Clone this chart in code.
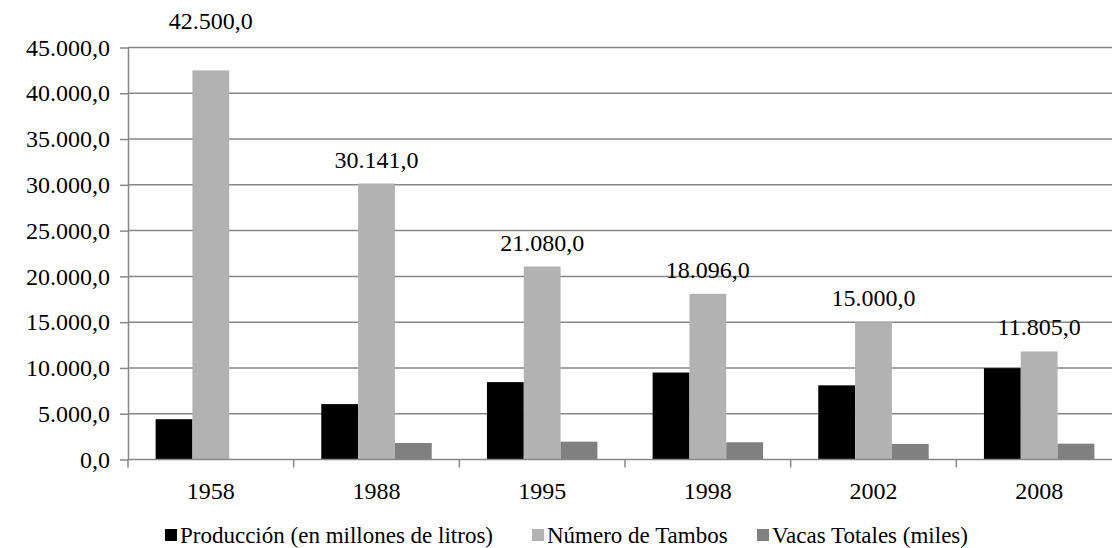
<!DOCTYPE html>
<html>
<head>
<meta charset="utf-8">
<script src="https://cdn.jsdelivr.net/npm/d3@7"></script>
<style>
  body { margin: 0; background: #fff; }
</style>
</head>
<body>
<div id="chart"></div>
<script>
const years = ["1958", "1988", "1995", "1998", "2002", "2008"];
const produccion = [4400, 6050, 8450, 9500, 8100, 9980];
const tambos = [42500, 30141, 21080, 18096, 15000, 11805];
const vacas = [null, 1800, 1950, 1880, 1700, 1730];
const yTicks = [0, 5000, 10000, 15000, 20000, 25000, 30000, 35000, 40000, 45000];
const seriesNames = ["Producción (en millones de litros)", "Número de Tambos", "Vacas Totales (miles)"];
const seriesColors = ["#000000", "#b2b2b2", "#808080"];

const WIDTH = 1112;
const HEIGHT = 548;
const margin = { top: 47.5, right: -10, bottom: 88.5, left: 128 };
const FONT = "'Liberation Serif', 'Times New Roman', serif";

const locale = d3.formatLocale({ decimal: ",", thousands: ".", grouping: [3], currency: ["", ""] });
const fmt = locale.format(",.1f");

let svg = d3
  .select("#chart")
  .append("svg")
  .attr("width", WIDTH)
  .attr("height", HEIGHT)
  .attr("font-family", FONT);

let x = d3
  .scaleBand()
  .domain(years)
  .range([margin.left, WIDTH - margin.right]);

let y = d3
  .scaleLinear()
  .domain([0, 45000])
  .range([HEIGHT - margin.bottom, margin.top]);

//Grid lines
svg
  .append("g")
  .selectAll("line")
  .data(yTicks.filter((t) => t > 0))
  .enter()
  .append("line")
  .attr("x1", margin.left)
  .attr("x2", WIDTH)
  .attr("y1", (d) => y(d))
  .attr("y2", (d) => y(d))
  .attr("stroke", "#878787")
  .attr("stroke-width", 1.5);

//Bars (gap width 150%)
let barW = x.bandwidth() / (3 + 1.5);
let series = [produccion, tambos, vacas];

series.forEach((values, s) => {
  svg
    .append("g")
    .selectAll("rect")
    .data(years.filter((yr, i) => values[i] != null))
    .enter()
    .append("rect")
    .attr("x", (d) => x(d) + barW * 0.75 + s * barW)
    .attr("width", barW)
    .attr("y", (d) => y(values[years.indexOf(d)]))
    .attr("height", (d) => y(0) - y(values[years.indexOf(d)]))
    .attr("fill", seriesColors[s]);
});

//Axes
let yAxis = d3
  .axisLeft(y)
  .tickValues(yTicks)
  .tickSize(8)
  .tickSizeOuter(0)
  .tickPadding(10)
  .tickFormat(fmt);

let gy = svg
  .append("g")
  .attr("transform", "translate(" + margin.left + ",0)")
  .call(yAxis);

let xAxis = d3
  .axisBottom(x)
  .tickSize(0)
  .tickSizeOuter(0)
  .tickPadding(22);

let gx = svg
  .append("g")
  .attr("transform", "translate(0," + y(0) + ")")
  .call(xAxis);

//category separators
gx.selectAll(".sep")
  .data(years)
  .enter()
  .append("line")
  .attr("class", "sep")
  .attr("x1", (d) => x(d))
  .attr("x2", (d) => x(d))
  .attr("y1", 0)
  .attr("y2", 8)
  .attr("stroke", "#878787")
  .attr("stroke-width", 1.5);

gx.select(".domain").attr("d", "M" + margin.left + ",0H" + WIDTH);

[gx, gy].forEach((g) => {
  g.attr("font-family", FONT).attr("font-size", 24);
  g.selectAll(".domain").attr("stroke", "#878787").attr("stroke-width", 1.5);
  g.selectAll(".tick line").attr("stroke", "#878787").attr("stroke-width", 1.5);
  g.selectAll("text").attr("fill", "#000");
});

//Value labels on the tambos series
svg
  .append("g")
  .selectAll("text")
  .data(years)
  .enter()
  .append("text")
  .attr("x", (d) => x(d) + barW * 0.75 + barW * 1.5)
  .attr("y", (d, i) => {
    let ly = y(tambos[i]) - 16;
    return ly < margin.top + 10 ? margin.top - 19 : ly;
  })
  .attr("text-anchor", "middle")
  .attr("font-size", 24)
  .text((d, i) => fmt(tambos[i]));

//Legend
const legendX = [165, 532, 757];
let legend = svg
  .append("g")
  .selectAll("g")
  .data(seriesNames)
  .enter()
  .append("g")
  .attr("transform", (d, i) => "translate(" + legendX[i] + "," + 535 + ")");

legend
  .append("rect")
  .attr("x", 0)
  .attr("y", -6)
  .attr("width", 12)
  .attr("height", 12)
  .attr("fill", (d, i) => seriesColors[i]);

legend
  .append("text")
  .attr("x", 15)
  .attr("y", 0)
  .attr("dy", "0.35em")
  .attr("font-size", 23)
  .text((d) => d);
</script>
</body>
</html>
